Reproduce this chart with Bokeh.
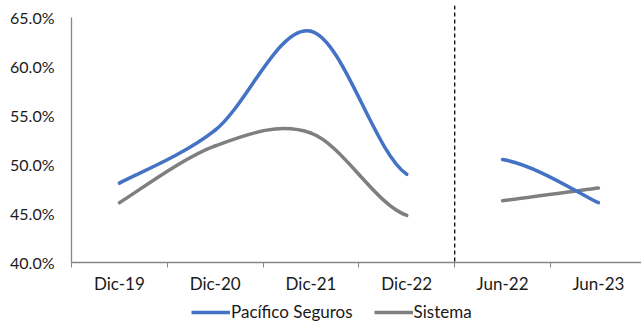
import numpy as np
from bokeh.plotting import figure
from bokeh.layouts import column
from bokeh.models import Range1d, FixedTicker, Span, Legend, LegendItem, ColumnDataSource
from bokeh.embed import file_html
from bokeh.resources import INLINE

categories = ["Dic-19", "Dic-20", "Dic-21", "Dic-22", "Jun-22", "Jun-23"]
pacifico = [48.1, 53.5, 63.6, 49.0, 50.5, 46.1]
sistema = [46.1, 51.9, 53.2, 44.8, 46.3, 47.6]
y_ticks = [40, 45, 50, 55, 60, 65]
break_after = 3  # no line between Dic-22 and Jun-22

BLUE = "#4472C4"
GRAY = "#7F7F7F"
FONT = "Lato"
TXT = "#1a1a1a"
FS = "16px"
FSX = "17px"

p = figure(width=641, height=300, output_backend="svg", toolbar_location=None,
           x_range=Range1d(0, 5.95), y_range=Range1d(40, 66.22),
           min_border_left=71, min_border_right=0, min_border_top=5, min_border_bottom=38)
p.outline_line_color = None
p.grid.grid_line_color = None

xs = np.arange(len(categories)) + 0.5


def smooth_segments(vals):
    v = np.array(vals, dtype=float)
    n = len(v)
    seg = dict(x0=[], y0=[], x1=[], y1=[], cx0=[], cy0=[], cx1=[], cy1=[])
    for i in range(n - 1):
        if i == break_after:
            continue
        i0 = max(i - 1, 0)
        i3 = min(i + 2, n - 1)
        p0 = np.array([xs[i0], v[i0]])
        p1 = np.array([xs[i], v[i]])
        p2 = np.array([xs[i + 1], v[i + 1]])
        p3 = np.array([xs[i3], v[i3]])
        c1 = p1 + (p2 - p0) / 6.0
        c2 = p2 - (p3 - p1) / 6.0
        seg["x0"].append(float(p1[0])); seg["y0"].append(float(p1[1]))
        seg["x1"].append(float(p2[0])); seg["y1"].append(float(p2[1]))
        seg["cx0"].append(float(c1[0])); seg["cy0"].append(float(c1[1]))
        seg["cx1"].append(float(c2[0])); seg["cy1"].append(float(c2[1]))
    return ColumnDataSource(seg)


for vals, col in [(sistema, GRAY), (pacifico, BLUE)]:
    p.bezier(x0="x0", y0="y0", x1="x1", y1="y1", cx0="cx0", cy0="cy0",
             cx1="cx1", cy1="cy1", source=smooth_segments(vals),
             line_color=col, line_width=3.5, line_cap="round")

# dashed separator between annual and semiannual periods
p.add_layout(Span(location=4, dimension="height", line_color="black",
                  line_width=1.3, line_dash="4 3"))

# x axis
xa = p.xaxis[0]
xa.ticker = FixedTicker(ticks=[float(x) for x in xs], minor_ticks=list(range(0, 7)))
xa.major_label_overrides = {float(x): c for x, c in zip(xs, categories)}
xa.major_tick_line_color = None
xa.major_tick_out = 0
xa.major_tick_in = 0
xa.minor_tick_out = 5
xa.minor_tick_in = 0
xa.minor_tick_line_color = "#868686"
xa.axis_line_color = "#868686"
xa.axis_line_width = 1.3
xa.major_label_standoff = 5
xa.major_label_text_font = FONT
xa.major_label_text_font_size = FSX
xa.major_label_text_color = TXT

# y axis
ya = p.yaxis[0]
ya.ticker = FixedTicker(ticks=y_ticks)
ya.bounds = (40, 65)
ya.major_label_overrides = {t: f"{t:.1f}%" for t in y_ticks}
ya.major_tick_out = 0
ya.major_tick_in = 0
ya.minor_tick_line_color = None
ya.axis_line_color = "#868686"
ya.axis_line_width = 1.3
ya.major_label_standoff = 17
ya.major_label_text_font = FONT
ya.major_label_text_font_size = FS
ya.major_label_text_color = TXT

# legend strip below the chart
q = figure(width=641, height=31, output_backend="svg", toolbar_location=None,
           x_range=Range1d(0, 1), y_range=Range1d(0, 1),
           x_axis_type=None, y_axis_type=None,
           min_border_left=0, min_border_right=0, min_border_top=0, min_border_bottom=0)
q.outline_line_color = None
q.grid.grid_line_color = None
r_b = q.line(x=[-5, -4], y=[-5, -4], line_color=BLUE, line_width=3.5)
r_g = q.line(x=[-5, -4], y=[-5, -4], line_color=GRAY, line_width=3.5)
legend = Legend(items=[LegendItem(label="Pacífico Seguros", renderers=[r_b]),
                       LegendItem(label="Sistema", renderers=[r_g])],
                orientation="horizontal", location=(120, 9),
                label_text_font=FONT, label_text_font_size=FSX,
                label_text_color=TXT, glyph_width=39, glyph_height=16,
                label_standoff=1, spacing=21, padding=2, margin=0,
                border_line_color=None, background_fill_alpha=0)
q.add_layout(legend, "center")

layout = column(p, q, spacing=0)
open("out.html", "w").write(file_html(layout, INLINE))
